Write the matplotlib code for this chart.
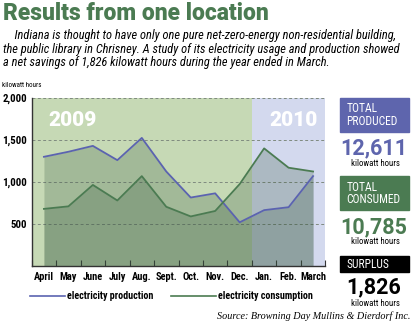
import matplotlib
matplotlib.use("Agg")
import matplotlib.pyplot as plt
import numpy as np
from matplotlib.patches import Rectangle

months = ["April", "May", "June", "July", "Aug.", "Sept.", "Oct.", "Nov.", "Dec.", "Jan.", "Feb.", "March"]
production = [1300, 1360, 1430, 1260, 1525, 1125, 815, 865, 520, 665, 700, 1070]
consumption = [680, 710, 965, 780, 1070, 705, 590, 655, 975, 1400, 1170, 1125]
yticks = [500, 1000, 1500, 2000]

W, H = 414, 326
green = "#4b7b52"
blue = "#5b63b0"
narrow = ["Roboto Condensed", "DejaVu Sans"]
heavy = ["Roboto", "Liberation Sans"]

fig = plt.figure(figsize=(W / 100, H / 100), dpi=100)
fig.patch.set_facecolor("white")

def px(x, y):
    return x / W, 1 - y / H

# title and intro
fig.text(*px(3, 14), "Results from one location", fontsize=16.5, fontweight="black",
         color=green, family=heavy, va="center")
intro = ["    Indiana is thought to have only one pure net-zero-energy non-residential building,",
         "the public library in Chrisney. A study of its electricity usage and production showed",
         "a net savings of 1,826 kilowatt hours during the year ended in March."]
for i, line in enumerate(intro):
    fig.text(*px(3, 36 + i * 13.3), line, fontsize=8.9, style="italic", family=narrow, va="center")
fig.text(*px(2, 85), "kilowatt hours", fontsize=5, family=narrow, va="center")

# main chart
ax = fig.add_axes([31.7 / W, 1 - 266 / H, (325.3 - 31.7) / W, (266 - 98) / H])
x = np.arange(len(months))
ax.set_xlim(-0.5, len(months) - 0.5)
ax.set_ylim(0, 2000)
ax.axvspan(-0.5, 8.5, color="#c6d9b5", lw=0, zorder=0)
ax.axvspan(8.5, 11.5, color="#d3d9ee", lw=0, zorder=0)
for v in yticks:
    ax.axhline(v, color="#7f8a7f", lw=0.7, ls=(0, (3, 2.5)), zorder=1)
ax.fill_between(x, 0, production, color="#3a5a42", alpha=0.25, lw=0, zorder=2)
ax.fill_between(x, 0, consumption, color="#3a5a42", alpha=0.25, lw=0, zorder=2)
ax.plot(x, production, color=blue, lw=1.3, zorder=3)
ax.plot(x, consumption, color=green, lw=1.3, zorder=3)

fig.text(*px(48, 120), "2009", color="white", fontsize=15, fontweight="black",
         family=heavy, va="center", ha="left", zorder=4)
fig.text(*px(318, 120), "2010", color="white", fontsize=15, fontweight="black",
         family=heavy, va="center", ha="right", zorder=4)

ax.set_yticks(yticks)
ax.set_yticklabels(["500", "1,000", "1,500", "2,000"], fontsize=7.8, fontweight="bold", family=narrow)
ax.set_xticks(np.arange(-0.5, 12, 1))
ax.set_xticklabels([])
ax.set_xticks(x, minor=True)
ax.set_xticklabels(months, minor=True, fontsize=7.5, fontweight="bold", family=narrow)
ax.tick_params(axis="x", which="major", direction="in", length=4, width=0.8, color="#333333")
ax.tick_params(axis="x", which="minor", length=0, pad=4)
ax.tick_params(axis="y", length=0, pad=3.5)
for s in ["top", "right"]:
    ax.spines[s].set_visible(False)
for s in ["left", "bottom"]:
    ax.spines[s].set_color("#333333")
    ax.spines[s].set_linewidth(1.0)

# legend
fig.add_artist(plt.Line2D([30 / W, 65 / W], [1 - 296 / H] * 2, color=blue, lw=1.2))
fig.text(*px(67, 296), "electricity production", fontsize=7.2, fontweight="bold", family=narrow, va="center")
fig.add_artist(plt.Line2D([171 / W, 216 / W], [1 - 296 / H] * 2, color=green, lw=1.2))
fig.text(*px(218, 296), "electricity consumption", fontsize=7.2, fontweight="bold", family=narrow, va="center")

# side panel
def box(y0, y1, color, label):
    fig.add_artist(Rectangle(px(340, y1), 69 / W, (y1 - y0) / H, color=color, transform=fig.transFigure))
    fig.text(*px(346.5, (y0 + y1) / 2 + 0.5), label, color="white", fontsize=8.3, family=narrow,
             va="center", linespacing=0.95)

box(97.7, 131.7, "#5e65ad", "TOTAL\nPRODUCED")
fig.text(*px(374, 148), "12,611", color="#5e65ad", fontsize=15.5, fontweight="bold",
         family=heavy, ha="center", va="center")
fig.text(*px(375, 163), "kilowatt hours", fontsize=6.3, family=narrow, ha="center", va="center")

box(175.7, 210.3, green, "TOTAL\nCONSUMED")
fig.text(*px(374, 227), "10,785", color=green, fontsize=15.5, fontweight="bold",
         family=heavy, ha="center", va="center")
fig.text(*px(375, 242), "kilowatt hours", fontsize=6.3, family=narrow, ha="center", va="center")

box(255.7, 271.7, "black", "SURPLUS")
fig.text(*px(374, 287), "1,826", color="black", fontsize=15.5, fontweight="bold",
         family=heavy, ha="center", va="center")
fig.text(*px(375, 303), "kilowatt hours", fontsize=6.3, family=narrow, ha="center", va="center")

fig.text(*px(410, 316), "Source: Browning Day Mullins & Dierdorf Inc.", fontsize=7.3,
         style="italic", family="Liberation Serif", ha="right", va="center")

fig.savefig("out.png", dpi=100)
